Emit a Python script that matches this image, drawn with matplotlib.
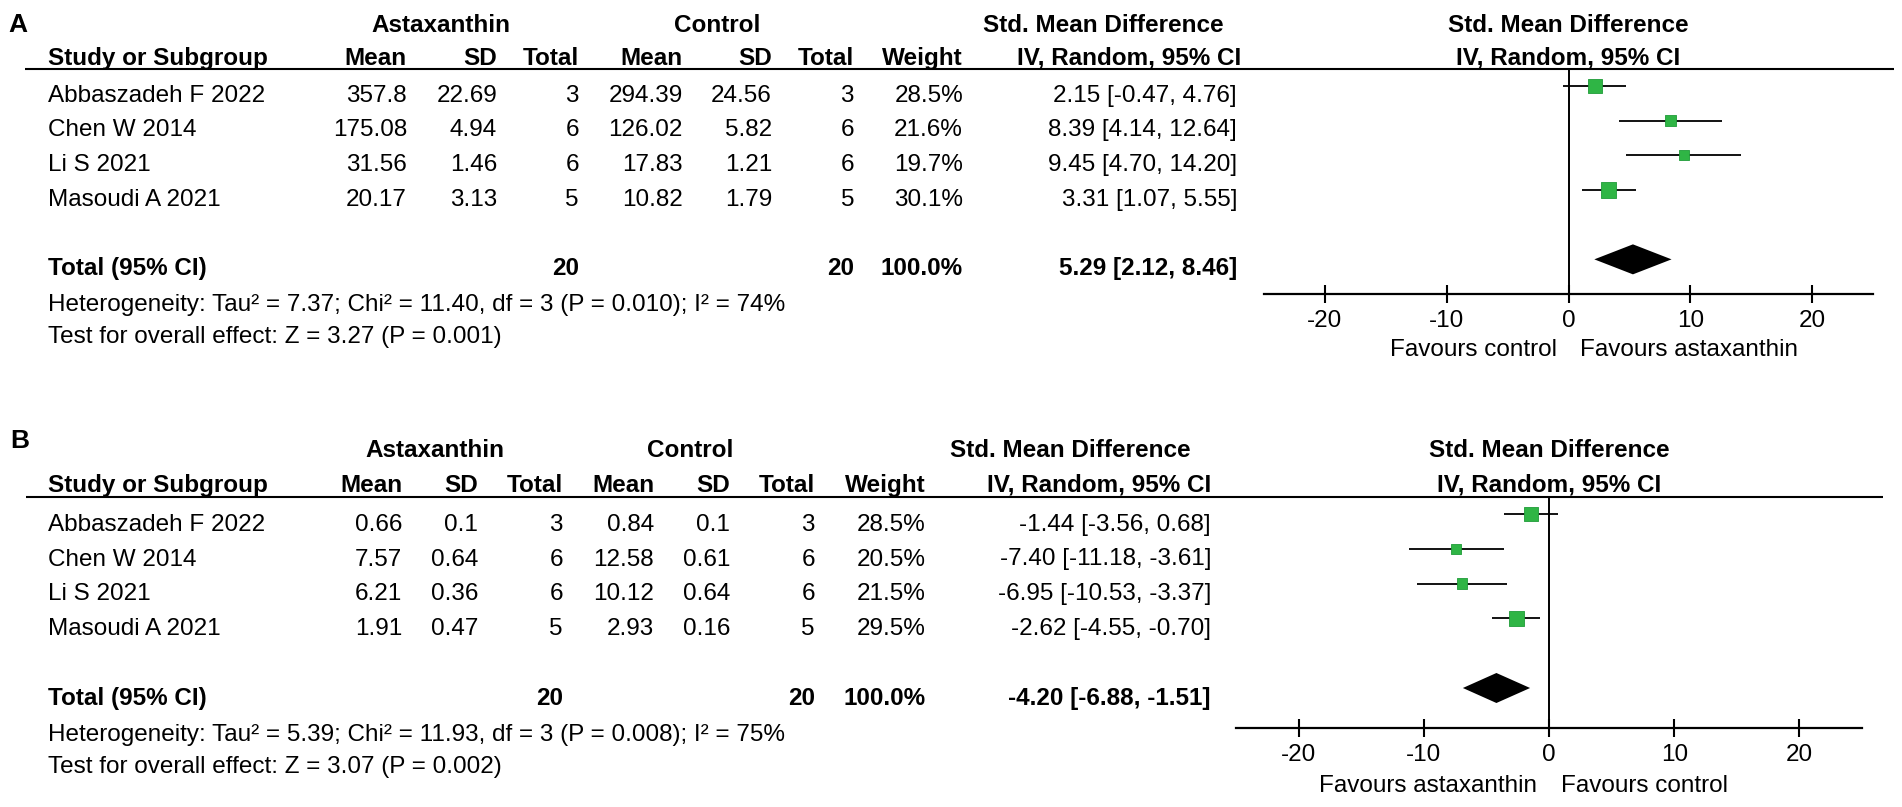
import matplotlib
matplotlib.use("Agg")
import matplotlib.pyplot as plt

plt.rcParams['font.family'] = ['Liberation Sans', 'DejaVu Sans']
plt.rcParams['axes.unicode_minus'] = False

# ---- data -------------------------------------------------------------
studies = ["Abbaszadeh F 2022", "Chen W 2014", "Li S 2021", "Masoudi A 2021"]
n_ast = [3, 6, 6, 5]
n_ctl = [3, 6, 6, 5]

# panel A
a_mean_ast = [357.8, 175.08, 31.56, 20.17]
a_sd_ast = [22.69, 4.94, 1.46, 3.13]
a_mean_ctl = [294.39, 126.02, 17.83, 10.82]
a_sd_ctl = [24.56, 5.82, 1.21, 1.79]
a_weight = [28.5, 21.6, 19.7, 30.1]
a_smd = [2.15, 8.39, 9.45, 3.31]
a_lo = [-0.47, 4.14, 4.70, 1.07]
a_hi = [4.76, 12.64, 14.20, 5.55]
a_total = [5.29, 2.12, 8.46]
a_total_weight = 100.0
a_het = "Heterogeneity: Tau² = 7.37; Chi² = 11.40, df = 3 (P = 0.010); I² = 74%"
a_test = "Test for overall effect: Z = 3.27 (P = 0.001)"
a_favours = ["Favours control", "Favours astaxanthin"]

# panel B
b_mean_ast = [0.66, 7.57, 6.21, 1.91]
b_sd_ast = [0.1, 0.64, 0.36, 0.47]
b_mean_ctl = [0.84, 12.58, 10.12, 2.93]
b_sd_ctl = [0.1, 0.61, 0.64, 0.16]
b_weight = [28.5, 20.5, 21.5, 29.5]
b_smd = [-1.44, -7.40, -6.95, -2.62]
b_lo = [-3.56, -11.18, -10.53, -4.55]
b_hi = [0.68, -3.61, -3.37, -0.70]
b_total = [-4.20, -6.88, -1.51]
b_total_weight = 100.0
b_het = "Heterogeneity: Tau² = 5.39; Chi² = 11.93, df = 3 (P = 0.008); I² = 75%"
b_test = "Test for overall effect: Z = 3.07 (P = 0.002)"
b_favours = ["Favours astaxanthin", "Favours control"]

ticks = [-20, -10, 0, 10, 20]
col_heads = ["Mean", "SD", "Total", "Mean", "SD", "Total", "Weight"]

# ---- figure -------------------------------------------------------------
W, H = 1902, 807
FS = 17.5
CAP = 8.7          # half cap height in px, to put text centres where measured
GREEN = "#2fb545"

fig = plt.figure(figsize=(W / 100, H / 100), dpi=100)
bg = fig.add_axes([0, 0, 1, 1])
bg.set_xlim(0, W)
bg.set_ylim(H, 0)
bg.axis("off")


def txt(x, y, s, ha="right", bold=False, size=FS):
    bg.text(x, y + CAP, s, ha=ha, va="baseline", fontsize=size,
            fontweight="bold" if bold else "normal")


def draw_panel(lay, mean_a, sd_a, mean_c, sd_c, weight, smd, lo, hi, total,
               total_w, het, test, favours):
    cols = lay["cols"]
    txt(lay["lab_x"], lay["lab_y"], lay["label"], ha="left", bold=True, size=19)

    # headers
    txt(lay["grp"][0], lay["h1"], "Astaxanthin", ha="center", bold=True)
    txt(lay["grp"][1], lay["h1"], "Control", ha="center", bold=True)
    txt(lay["grp"][2], lay["h1"], "Std. Mean Difference", ha="center", bold=True)
    txt(48, lay["h2"], "Study or Subgroup", ha="left", bold=True)
    for x, s in zip(cols[:7], col_heads):
        txt(x, lay["h2"], s, bold=True)
    txt(lay["iv_x"], lay["h2"], "IV, Random, 95% CI", bold=True)
    bg.plot([lay["line_x0"], lay["line_x1"]], [lay["line_y"]] * 2,
            color="black", lw=1.5, solid_capstyle="butt")

    # study rows
    for i, name in enumerate(studies):
        y = lay["row0"] + lay["step"] * i
        txt(48, y, name, ha="left")
        vals = [f"{mean_a[i]:g}", f"{sd_a[i]:g}", str(n_ast[i]),
                f"{mean_c[i]:g}", f"{sd_c[i]:g}", str(n_ctl[i]),
                f"{weight[i]:.1f}%",
                f"{smd[i]:.2f} [{lo[i]:.2f}, {hi[i]:.2f}]"]
        for x, s in zip(cols, vals):
            txt(x, y, s)

    # total row
    yt = lay["row0"] + lay["step"] * 5
    txt(48, yt, "Total (95% CI)", ha="left", bold=True)
    txt(cols[2], yt, str(sum(n_ast)), bold=True)
    txt(cols[5], yt, str(sum(n_ctl)), bold=True)
    txt(cols[6], yt, f"{total_w:.1f}%", bold=True)
    txt(cols[7], yt, f"{total[0]:.2f} [{total[1]:.2f}, {total[2]:.2f}]", bold=True)
    txt(48, yt + 36, het, ha="left")
    txt(48, yt + 68, test, ha="left")

    # forest plot
    x0, x1 = lay["ax_x"]
    top, bot = lay["line_y"], lay["axis_y"]
    ax = fig.add_axes([x0 / W, 1 - bot / H, (x1 - x0) / W, (bot - top) / H])
    ax.patch.set_alpha(0)
    m0, st = lay["mark0"], lay["step"]
    ax.set_xlim(-25, 25)
    ax.set_ylim((bot - m0) / st, (top - m0) / st)
    rows = list(range(len(studies)))
    ax.hlines(rows, lo, hi, color="black", lw=1.3, zorder=2)
    ax.scatter(smd, rows, marker="s", s=[(0.36 * w) ** 2 for w in weight],
               color=GREEN, edgecolors="#1f9c38", linewidths=0.6, zorder=3)
    hh = 15 / st
    ax.fill([total[1], total[0], total[2], total[0]], [5, 5 - hh, 5, 5 + hh],
            color="black", lw=0, zorder=3)
    ax.axvline(0, color="black", lw=1.4, zorder=1)
    for sp in ["left", "right", "top"]:
        ax.spines[sp].set_visible(False)
    ax.spines["bottom"].set_linewidth(1.6)
    ax.set_yticks([])
    ax.set_xticks(ticks)
    ax.set_xticklabels([str(t) for t in ticks])
    ax.tick_params(axis="x", direction="inout", length=13, width=1.5,
                   labelsize=FS, pad=5)
    ax.annotate(favours[0], xy=(0, 0), xycoords=("data", "axes fraction"),
                xytext=(-8.5, -lay["fav_dy"]), textcoords="offset points",
                ha="right", va="center", fontsize=FS)
    ax.annotate(favours[1], xy=(0, 0), xycoords=("data", "axes fraction"),
                xytext=(8.5, -lay["fav_dy"]), textcoords="offset points",
                ha="left", va="center", fontsize=FS)

    # right-hand headers centred on the plot
    xc = (x0 + x1) / 2
    txt(xc, lay["h1"], "Std. Mean Difference", ha="center", bold=True)
    txt(xc, lay["h2"], "IV, Random, 95% CI", ha="center", bold=True)


lay_a = dict(label="A", lab_x=8, lab_y=23, h1=23, h2=56, line_y=69,
             line_x0=25, line_x1=1894, row0=93, step=34.67, mark0=86,
             cols=[407, 497, 579, 683, 772, 854, 963, 1237],
             grp=[441, 717, 1103], iv_x=1241,
             ax_x=(1264, 1873), axis_y=294, fav_dy=40)
lay_b = dict(label="B", lab_x=10, lab_y=439, h1=448, h2=483, line_y=497,
             line_x0=26, line_x1=1883, row0=522, step=34.8, mark0=514,
             cols=[402, 478, 563, 654, 730, 815, 926, 1211],
             grp=[435, 690, 1070], iv_x=1211,
             ax_x=(1236, 1862), axis_y=728, fav_dy=42)

draw_panel(lay_a, a_mean_ast, a_sd_ast, a_mean_ctl, a_sd_ctl, a_weight,
           a_smd, a_lo, a_hi, a_total, a_total_weight, a_het, a_test, a_favours)
draw_panel(lay_b, b_mean_ast, b_sd_ast, b_mean_ctl, b_sd_ctl, b_weight,
           b_smd, b_lo, b_hi, b_total, b_total_weight, b_het, b_test, b_favours)

fig.savefig("out.png", dpi=100)
